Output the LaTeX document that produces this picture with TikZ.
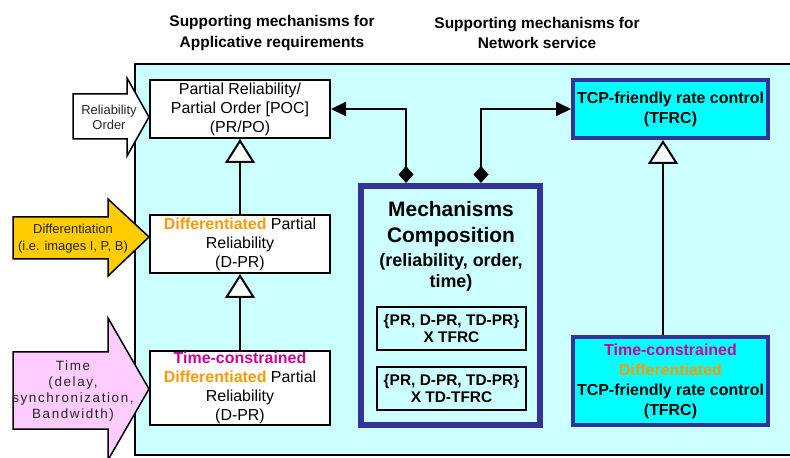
\documentclass[tikz,border=0pt]{standalone}
\usepackage{fontspec}
\setmainfont{Liberation Sans}
\newfontfamily\spacedsans[LetterSpace=12]{Liberation Sans}
\usetikzlibrary{arrows.meta,calc}

\definecolor{panel}{RGB}{204,255,255}
\definecolor{navy}{RGB}{51,51,153}
\definecolor{tfrcfill}{RGB}{0,255,255}
\definecolor{orangetxt}{RGB}{255,153,0}
\definecolor{magentatxt}{RGB}{204,0,153}
\definecolor{yellowarrow}{RGB}{255,204,0}
\definecolor{pinkarrow}{RGB}{255,204,255}

\newcommand{\fsz}[2]{\fontsize{#1}{#2}\selectfont}
\newcommand{\diffword}{{\color{orangetxt}\bfseries Differentiated}}
\newcommand{\timeword}{{\color{magentatxt}\bfseries Time-constrained}}

\begin{document}
\begin{tikzpicture}[x=1bp,y=-1bp,
  mechbox/.style={draw=black, line width=2bp, fill=white, inner sep=0pt, align=center,
    minimum width=180bp, font=\fsz{16}{19}},
  combbox/.style={draw=black, line width=2bp, inner sep=0pt, align=center,
    minimum width=149bp, minimum height=43bp, font=\bfseries\fsz{15.5}{18}},
  netbox/.style={draw=navy, line width=4bp, fill=tfrcfill, inner sep=0pt, align=center,
    minimum width=195bp, font=\bfseries\fsz{16}{20}},
  blockarrow/.style={draw=black, line width=1.5bp, line join=miter},
  arrowtext/.style={align=center, text=black!85, inner sep=0pt},
  link/.style={line width=2bp, {Diamond[length=17bp,width=15bp]}-{Triangle[length=15bp,width=14bp]}},
  inherit/.style={line width=2bp, -{Triangle[length=24bp,width=30bp,fill=white]}},
  heading/.style={align=center, font=\bfseries\fsz{15.5}{21}}
]
\useasboundingbox (0,0) rectangle (790,458);

% column headings
\node[heading] (headapp) at (272,33) {Supporting mechanisms for\\Applicative requirements};
\node[heading] (headnet) at (537,33) {Supporting mechanisms for\\Network service};

% framework panel (open on the right)
\fill[panel] (135,64) rectangle (800,455);
\draw[line width=2.5bp] (800,64) -- (135,64) -- (135,455) -- (800,455);

% applicative mechanisms
\node[mechbox, minimum height=58bp] (prpo) at (240,109)
  {Partial Reliability/\\Partial Order [POC]\\(PR/PO)};
\node[mechbox, minimum height=58bp] (dpr) at (240,244)
  {\diffword{} Partial\\Reliability\\(D-PR)};
\node[mechbox, minimum height=74bp] (tdpr) at (240,388)
  {\timeword\\\diffword{} Partial\\Reliability\\(D-PR)};

% composition block
\node[draw=navy, line width=6bp, fill=panel, minimum width=179bp, minimum height=239bp] (mech) at (450.5,305.5) {};
\node[align=center, font=\bfseries\fsz{21}{26}] (mechtitle) at (451,224) {Mechanisms\\Composition};
\node[align=center, font=\bfseries\fsz{18}{21}] (mechsub) at (451,272.5) {(reliability, order,\\time)};
\node[combbox] (comb1) at (451.5,328.5) {\{PR, D-PR, TD-PR\}\\X TFRC};
\node[combbox] (comb2) at (451.5,388.5) {\{PR, D-PR, TD-PR\}\\X TD-TFRC};

% network mechanisms
\node[netbox, minimum height=58bp] (tfrc) at (670.5,109) {TCP-friendly rate control\\(TFRC)};
\node[netbox, minimum height=88bp] (tdtfrc) at (670.5,381)
  {{\color{magentatxt}Time-constrained}\\{\color{orangetxt}Differentiated}\\TCP-friendly rate control\\(TFRC)};

% specialisation links
\draw[inherit] (dpr.north) -- (prpo.south);
\draw[inherit] (tdpr.north) -- (dpr.south);
\coordinate (netx) at (663,0);
\draw[inherit] (tdtfrc.north -| netx) -- (tfrc.south -| netx);

% composition links
\coordinate (leftx) at (406,0);
\coordinate (rightx) at (481,0);
\draw[link] (mech.north -| leftx) |- (prpo.east);
\draw[link] (mech.north -| rightx) |- (tfrc.west);

% input requirement arrows
\draw[blockarrow, fill=white] (73,94) -- (127,94) -- (127,78) -- (149,117) -- (127,156) -- (127,139) -- (73,139) -- cycle;
\node[arrowtext, font=\fsz{13}{15}] (relorder) at (109,117.5) {Reliability\\Order};

\draw[blockarrow, fill=yellowarrow] (13,217) -- (108,217) -- (108,199) -- (149,237) -- (108,276) -- (108,259) -- (13,259) -- cycle;
\node[arrowtext, font=\fsz{13}{17}] (difftext) at (73,238.5) {Differentiation\\(i.e. images I, P, B)};

\draw[blockarrow, fill=pinkarrow] (13,352) -- (108,352) -- (108,318) -- (149,389) -- (108,460) -- (108,429) -- (13,429) -- cycle;
\node[arrowtext, font=\spacedsans\fsz{13.5}{16}] (timetext) at (73,391) {Time\\(delay,\\synchronization,\\Bandwidth)};
\end{tikzpicture}
\end{document}
